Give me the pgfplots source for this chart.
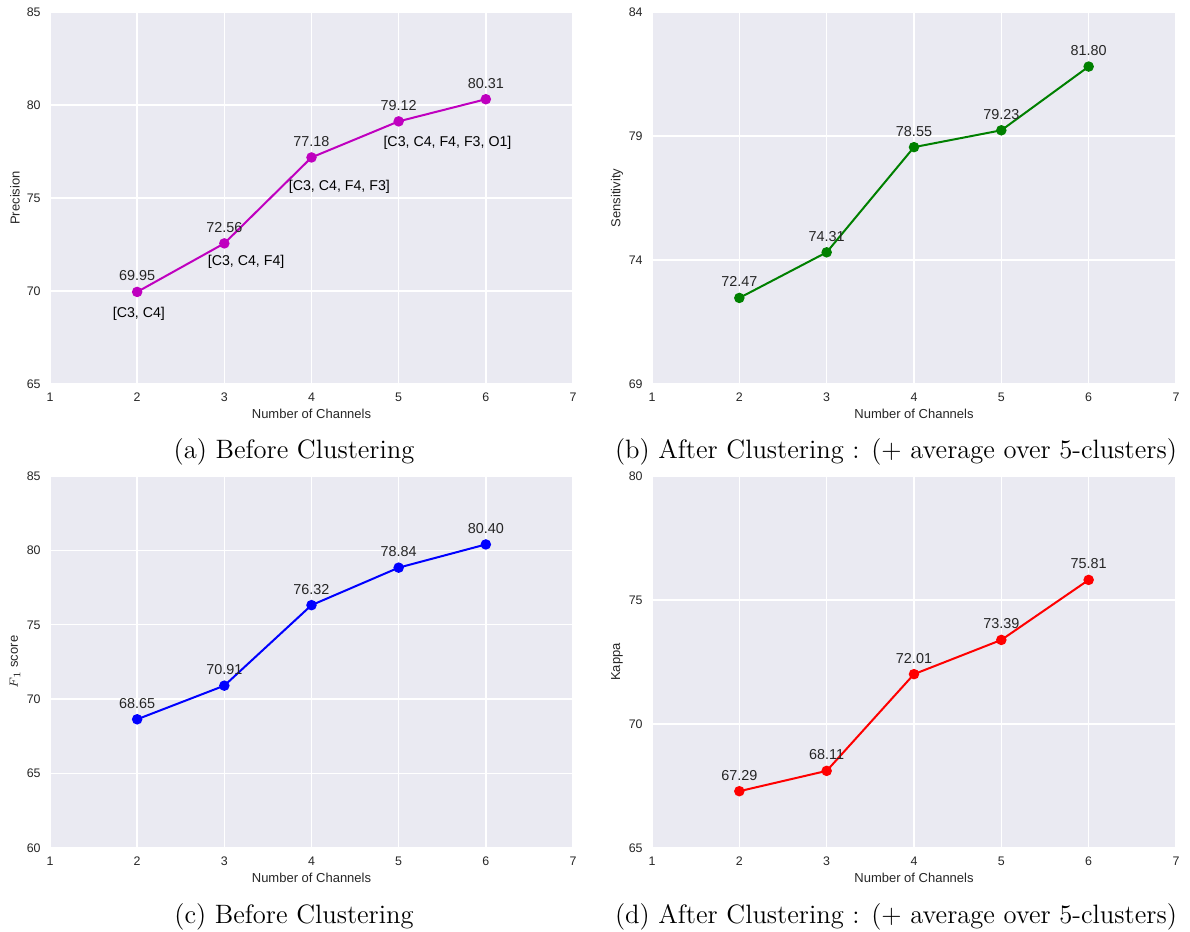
\documentclass[border=0pt]{standalone}
\usepackage{fontspec}
\usepackage{pgfplots}
\pgfplotsset{compat=1.18}
\newfontfamily\arial{Liberation Sans}
\definecolor{bgc}{HTML}{EAEAF2}
\definecolor{txt}{HTML}{262626}
\definecolor{cm}{rgb}{0.75,0,0.75}
\definecolor{cg}{rgb}{0,0.5,0}
\definecolor{cb}{rgb}{0,0,1}
\definecolor{cr}{rgb}{1,0,0}
\pgfplotsset{
  sns/.style={
    scale only axis,
    height=186pt,
    axis background/.style={fill=bgc},
    axis line style={draw=none},
    grid=major,
    major grid style={white, line width=0.7pt},
    major tick length=0pt,
    xmin=1, xmax=7, xtick={1,...,7},
    tick label style={font=\arial\fontsize{6.2}{7}\selectfont, text=txt},
    /pgf/number format/assume math mode=true,
    xticklabel style={anchor=center, yshift=-6.5pt},
    yticklabel style={anchor=east, inner sep=0pt, xshift=-4.5pt},
    every axis x label/.style={at={([yshift=-15pt]axis description cs:0.5,0)}, anchor=center, font=\arial\fontsize{6.5}{8}\selectfont, text=txt},
    every axis y label/.style={at={([xshift=-17.5pt]axis description cs:0,0.5)}, anchor=center, rotate=90, font=\arial\fontsize{6.5}{8}\selectfont, text=txt},
    xlabel={Number of Channels},
    nodes near coords,
    point meta=explicit symbolic,
    every node near coord/.append style={font=\arial\fontsize{7.2}{8}\selectfont, text=txt, anchor=center, yshift=8pt},
    clip=false,
  },
  sline/.style={line width=1pt, mark=*, mark size=2.1pt, color=#1, mark options={fill=#1, draw=#1}},
}
\begin{document}
\begin{tikzpicture}
\useasboundingbox (0,0) rectangle (595pt,466pt);
% (a)
\begin{axis}[sns, width=261.5pt, at={(25pt,274pt)}, anchor=south west,
  ymin=65, ymax=85, ytick={65,70,...,85}, ylabel={Precision}]
\addplot[sline=cm] coordinates {(2,69.95)[69.95] (3,72.56)[72.56] (4,77.18)[77.18] (5,79.12)[79.12] (6,80.31)[80.31]};
\node[font=\arial\fontsize{7.1}{8}\selectfont, text=black] at (axis cs:2.02,68.76) {[C3, C4]};
\node[font=\arial\fontsize{7.1}{8}\selectfont, text=black] at (axis cs:3.25,71.56) {[C3, C4, F4]};
\node[font=\arial\fontsize{7.1}{8}\selectfont, text=black] at (axis cs:4.32,75.6) {[C3, C4, F4, F3]};
\node[font=\arial\fontsize{7.1}{8}\selectfont, text=black] at (axis cs:5.56,77.96) {[C3, C4, F4, F3, O1]};
\end{axis}
% (b)
\begin{axis}[sns, width=262pt, at={(326pt,274pt)}, anchor=south west,
  ymin=69, ymax=84, ytick={69,74,79,84}, ylabel={Sensitivity}]
\addplot[sline=cg] coordinates {(2,72.47)[72.47] (3,74.31)[74.31] (4,78.55)[78.55] (5,79.23)[79.23] (6,81.80)[81.80]};
\end{axis}
% (c)
\begin{axis}[sns, width=261.5pt, at={(25pt,42pt)}, anchor=south west,
  ymin=60, ymax=85, ytick={60,65,...,85}, ylabel={$F_1$ score}]
\addplot[sline=cb] coordinates {(2,68.65)[68.65] (3,70.91)[70.91] (4,76.32)[76.32] (5,78.84)[78.84] (6,80.40)[80.40]};
\end{axis}
% (d)
\begin{axis}[sns, width=262pt, at={(326pt,42pt)}, anchor=south west,
  ymin=65, ymax=80, ytick={65,70,75,80}, ylabel={Kappa}]
\addplot[sline=cr] coordinates {(2,67.29)[67.29] (3,68.11)[68.11] (4,72.01)[72.01] (5,73.39)[73.39] (6,75.81)[75.81]};
\end{axis}
\node[font=\fontsize{13.3}{16}\selectfont] at (147pt,240pt) {(a) Before Clustering};
\node[font=\fontsize{13.3}{16}\selectfont] at (448pt,240pt) {(b) After Clustering : (+ average over 5-clusters)};
\node[font=\fontsize{13.3}{16}\selectfont] at (147pt,7.5pt) {(c) Before Clustering};
\node[font=\fontsize{13.3}{16}\selectfont] at (448pt,7.5pt) {(d) After Clustering : (+ average over 5-clusters)};
\end{tikzpicture}
\end{document}
